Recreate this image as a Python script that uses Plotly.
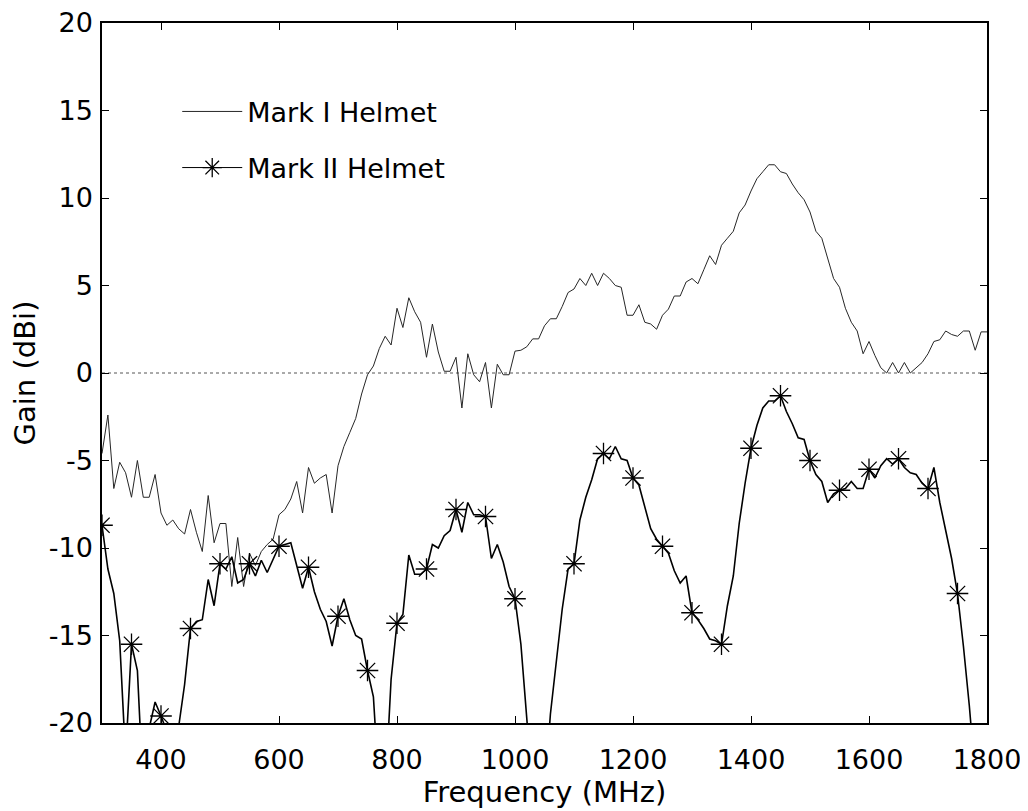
import plotly.graph_objects as go

# ---------------- data ----------------
freq_mark1 = list(range(300, 1801, 10))
gain_mark1 = [
    -4.6, -2.4, -6.6, -5.1, -5.7, -7.1, -5.0, -7.1, -7.1, -5.8,      # 300-390
    -8.0, -8.7, -8.4, -8.9, -9.2, -7.8, -9.1, -10.2, -7.0, -9.7,     # 400-490
    -8.6, -8.6, -12.2, -9.4, -12.2, -10.3, -11.0, -10.2, -9.8, -9.5, # 500-590
    -8.1, -7.8, -7.2, -6.2, -8.0, -5.4, -6.3, -6.0, -5.8, -8.0,      # 600-690
    -5.3, -4.2, -3.4, -2.6, -1.2, -0.1, 0.4, 1.4, 2.1, 1.6,          # 700-790
    3.7, 2.6, 4.3, 3.5, 2.9, 0.9, 2.8, 1.2, 0.1, 0.1,                # 800-890
    0.9, -2.0, 1.1, -0.1, -0.5, 0.6, -2.0, 0.5, -0.1, -0.1,          # 900-990
    1.25, 1.3, 1.5, 1.95, 1.95, 2.7, 3.1, 3.1, 3.8, 4.6,             # 1000-1090
    4.8, 5.4, 5.0, 5.7, 5.0, 5.7, 5.4, 5.0, 4.9, 3.3,                # 1100-1190
    3.3, 3.9, 2.9, 2.8, 2.5, 3.3, 3.65, 4.4, 4.4, 5.2,               # 1200-1290
    5.4, 5.1, 5.9, 6.7, 6.2, 7.3, 7.7, 8.1, 9.15, 9.6,               # 1300-1390
    10.4, 11.1, 11.5, 11.9, 11.9, 11.5, 11.4, 10.8, 10.3, 9.9,       # 1400-1490
    9.2, 8.1, 7.7, 6.6, 5.4, 4.9, 3.7, 2.9, 2.4, 1.1,                # 1500-1590
    1.8, 1.0, 0.3, 0.0, 0.6, 0.0, 0.6, 0.0, 0.3, 0.6,                # 1600-1690
    1.1, 1.8, 1.9, 2.4, 2.2, 2.1, 2.4, 2.4, 1.3, 2.35,               # 1700-1790
    2.35,                                                            # 1800
]

freq_mark2 = list(range(300, 1781, 10))
gain_mark2 = [
    -8.7, -11.2, -12.6, -15.3, -22.0, -15.5, -17.0, -24.0, -20.3, -18.8,      # 300-390
    -19.6, -20.5, -24.0, -20.2, -17.8, -14.6, -14.2, -14.1, -11.8, -13.3,     # 400-490
    -10.9, -11.2, -10.5, -12.0, -11.8, -10.9, -11.6, -10.7, -11.4, -10.6,     # 500-590
    -9.9, -9.8, -9.7, -11.0, -12.3, -11.1, -12.5, -13.5, -14.2, -15.6,        # 600-690
    -13.9, -12.9, -14.1, -15.0, -15.2, -17.0, -18.5, -24.0, -24.0, -17.5,     # 700-790
    -14.3, -13.8, -10.4, -11.5, -11.5, -11.2, -9.8, -10.0, -9.3, -9.0,        # 800-890
    -7.8, -9.1, -7.4, -8.1, -8.1, -8.2, -10.6, -9.8, -10.8, -12.2,            # 900-990
    -12.9, -15.5, -19.5, -24.0, -26.0, -24.0, -19.5, -16.5, -13.5, -11.2,     # 1000-1090
    -10.9, -8.4, -7.1, -6.1, -4.9, -4.6, -4.9, -4.2, -4.9, -5.0,              # 1100-1190
    -6.0, -6.4, -7.6, -8.9, -9.5, -9.9, -10.3, -11.3, -12.0, -11.6,           # 1200-1290
    -13.7, -14.1, -14.6, -15.2, -15.3, -15.5, -13.3, -11.6, -8.6, -6.3,       # 1300-1390
    -4.3, -3.0, -2.0, -1.6, -1.6, -1.3, -2.2, -2.9, -3.7, -3.8,               # 1400-1490
    -5.0, -5.8, -6.2, -7.4, -6.9, -6.7, -6.6, -6.2, -6.6, -6.6,               # 1500-1590
    -5.5, -6.0, -5.3, -4.9, -5.2, -4.9, -5.4, -5.7, -5.8, -6.3,               # 1600-1690
    -6.6, -5.4, -7.4, -9.0, -10.6, -12.6, -15.6, -19.0, -23.0,                # 1700-1780
]

marker_step = 50  # Mark II asterisks every 50 MHz
star_freq = [f for f in freq_mark2 if f % marker_step == 0]
star_gain = [g for f, g in zip(freq_mark2, gain_mark2) if f % marker_step == 0]

x_ticks = [400, 600, 800, 1000, 1200, 1400, 1600, 1800]
x_tick_labels = ["400", "600", "800", "1000", "1200", "1400", "1600", "1800"]
y_ticks = [-20, -15, -10, -5, 0, 5, 10, 15, 20]
y_tick_labels = ["-20", "-15", "-10", "-5", "0", "5", "10", "15", "20"]

name_mark1 = "Mark I Helmet"
name_mark2 = "Mark II Helmet"

FONT = "DejaVu Sans, Liberation Sans, Arial, sans-serif"

fig = go.Figure()

fig.add_trace(go.Scatter(
    x=freq_mark1, y=gain_mark1, mode="lines", name=name_mark1,
    line=dict(color="#262626", width=1), legendgroup="g1",
))
fig.add_trace(go.Scatter(
    x=freq_mark2, y=gain_mark2, mode="lines", name=name_mark2,
    line=dict(color="black", width=1.6), showlegend=False, legendgroup="g2",
))
fig.add_trace(go.Scatter(
    x=star_freq, y=star_gain, mode="markers", name=name_mark2,
    marker=dict(symbol="asterisk-open", size=18, color="black",
                line=dict(color="black", width=1.3)),
    showlegend=False, legendgroup="g2", cliponaxis=True,
))
# legend entry for Mark II (line + asterisk)
fig.add_trace(go.Scatter(
    x=[None], y=[None], mode="lines+markers", name=name_mark2,
    line=dict(color="black", width=1),
    marker=dict(symbol="asterisk-open", size=18, color="black",
                line=dict(color="black", width=1.3)),
    legendgroup="g2",
))

# dotted zero reference line
fig.add_shape(type="line", xref="paper", x0=0, x1=1, yref="y", y0=0, y1=0,
              line=dict(color="#555555", width=1, dash="dot"), layer="below")

axis_common = dict(
    showline=True, linecolor="black", linewidth=1.5, mirror="ticks",
    ticks="inside", ticklen=7, tickwidth=1, tickcolor="black",
    showgrid=False, zeroline=False, automargin=False,
    ticklabeloverflow="allow",
    tickfont=dict(family=FONT, size=27, color="black"),
)

fig.update_xaxes(
    range=[300, 1800], tickvals=x_ticks, ticktext=x_tick_labels, **axis_common,
    ticklabelstandoff=12,
    title=dict(text="Frequency (MHz)", font=dict(family=FONT, size=29, color="black"), standoff=4),
)
fig.update_yaxes(
    range=[-20, 20], tickvals=y_ticks, ticktext=y_tick_labels, **axis_common,
    ticklabelstandoff=2,
    title=dict(text="Gain (dBi)", font=dict(family=FONT, size=29, color="black"), standoff=8),
)

fig.update_layout(
    width=1020, height=803,
    margin=dict(l=94, r=41, t=15, b=88),
    paper_bgcolor="white", plot_bgcolor="white",
    font=dict(family=FONT, size=27, color="black"),
    showlegend=True,
    legend=dict(
        x=0.085, y=0.908, xanchor="left", yanchor="top",
        bgcolor="rgba(0,0,0,0)", borderwidth=0,
        font=dict(family=FONT, size=27, color="black"),
        itemwidth=60, tracegroupgap=18, traceorder="grouped",
    ),
)

fig.write_html("out.html")
